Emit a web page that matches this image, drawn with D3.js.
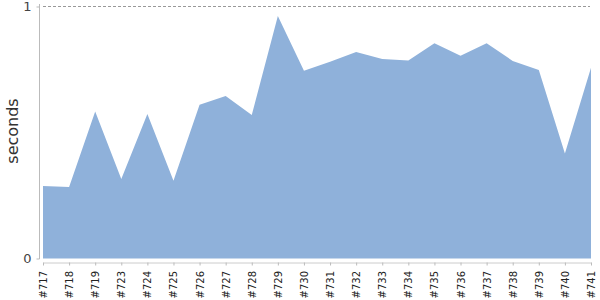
<!DOCTYPE html>
<html>
<head>
<meta charset="utf-8">
<script src="https://cdn.jsdelivr.net/npm/d3@7"></script>
<style>
    body { margin: 0; background: #fff; }
    svg { display: block; font-family: 'DejaVu Sans', sans-serif; }
</style>
</head>
<body>
<div id="chart"></div>
<script>
const BUILDS = ['#717', '#718', '#719', '#723', '#724', '#725', '#726', '#727', '#728', '#729', '#730',
    '#731', '#732', '#733', '#734', '#735', '#736', '#737', '#738', '#739', '#740', '#741'];
const SECONDS = [0.288, 0.284, 0.583, 0.315, 0.573, 0.309, 0.610, 0.645, 0.569, 0.962, 0.745,
    0.781, 0.819, 0.792, 0.786, 0.854, 0.805, 0.854, 0.784, 0.748, 0.417, 0.757];
const Y_TICKS = [0, 1];

const WIDTH = 600;
const HEIGHT = 300;
const MARGIN = { TOP: 6.5, BOTTOM: 41.5, LEFT: 43, RIGHT: 9 };

const data = BUILDS.map((b, i) => ({ build: b, value: SECONDS[i] }));

const svg = d3.select('#chart')
    .append('svg')
    .attr('width', WIDTH)
    .attr('height', HEIGHT);

const xScale = d3.scalePoint()
    .domain(BUILDS)
    .range([MARGIN.LEFT, WIDTH - MARGIN.RIGHT]);

const yScale = d3.scaleLinear()
    .domain([0, 1])
    .range([HEIGHT - MARGIN.BOTTOM, MARGIN.TOP]);

// dashed line at the top value
svg.append('line')
    .attr('x1', MARGIN.LEFT)
    .attr('x2', WIDTH - MARGIN.RIGHT - 1)
    .attr('y1', yScale(1))
    .attr('y2', yScale(1))
    .attr('stroke', '#999')
    .attr('stroke-dasharray', '3,2');

const area = d3.area()
    .x((d) => xScale(d.build))
    .y0(yScale(0))
    .y1((d) => yScale(d.value))
    .curve(d3.curveLinear);

svg.append('path')
    .attr('d', area(data))
    .attr('fill', '#8fb1da');

// y axis
const yAxis = svg.append('g')
    .attr('transform', 'translate(39.5, 0)')
    .call(d3.axisLeft(yScale).tickValues(Y_TICKS).tickSize(3).tickPadding(5).tickFormat(d3.format('d')));
yAxis.select('.domain')
    .attr('stroke', '#bbb')
    .attr('d', `M0,${MARGIN.TOP - 2.5}V${yScale(0) + 0.5}`);
yAxis.selectAll('.tick line').attr('stroke', '#bbb');
yAxis.selectAll('.tick text')
    .attr('fill', '#444')
    .attr('font-size', 13)
    .attr('font-family', 'DejaVu Sans, sans-serif');

// x axis
const xAxis = svg.append('g')
    .attr('transform', 'translate(0, 262.5)')
    .call(d3.axisBottom(xScale).tickSize(3).tickSizeOuter(0));
xAxis.select('.domain').attr('stroke', '#ccc');
xAxis.selectAll('.tick line').attr('stroke', '#bbb');
xAxis.selectAll('.tick text')
    .attr('y', 0)
    .attr('x', 0)
    .attr('dy', '0.35em')
    .attr('text-anchor', 'end')
    .attr('transform', 'translate(0, 8.5) rotate(-90)')
    .attr('fill', '#222')
    .attr('font-size', 10)
    .attr('font-family', 'DejaVu Sans, sans-serif');

svg.append('text')
    .attr('transform', `translate(18, ${131}) rotate(-90)`)
    .attr('text-anchor', 'middle')
    .attr('font-size', 16)
    .attr('fill', '#333')
    .text('seconds');
</script>
</body>
</html>
